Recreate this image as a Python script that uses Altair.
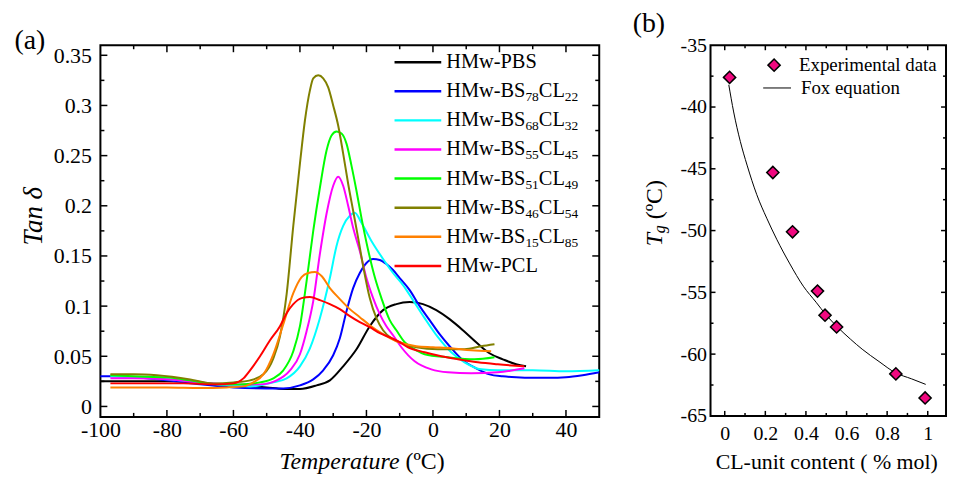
import altair as alt
import pandas as pd

FONT = "Liberation Serif"

# ---------------- Panel (a): tan(delta) vs temperature ----------------
series_names = ["HMw-PBS", "HMw-BS78CL22", "HMw-BS68CL32", "HMw-BS55CL45",
                "HMw-BS51CL49", "HMw-BS46CL54", "HMw-BS15CL85", "HMw-PCL"]
legend_main = ["HMw-PBS", "HMw-BS", "HMw-BS", "HMw-BS", "HMw-BS", "HMw-BS", "HMw-BS", "HMw-PCL"]
bs_sub = ["", "78", "68", "55", "51", "46", "15", ""]
cl_sub = ["", "22", "32", "45", "49", "54", "85", ""]
series_colors = ["#000000", "#0000ff", "#00ffff", "#ff00ff",
                 "#00ff00", "#808000", "#ff8000", "#ff0000"]

pbs_T = [-100, -90, -80, -70, -60, -50, -45, -40, -35, -31, -27, -23, -19, -15, -11, -7, -3, 1, 5, 9, 13, 17, 21, 25, 28]
pbs_v = [0.025, 0.025, 0.025, 0.0235, 0.021, 0.019, 0.0175, 0.0175, 0.021, 0.026, 0.040, 0.057, 0.080, 0.096, 0.102,
         0.104, 0.102, 0.096, 0.087, 0.076, 0.064, 0.053, 0.047, 0.042, 0.040]

bs78_T = [-100, -95, -90, -80, -70, -60, -50, -45, -40, -36, -33, -30, -28, -26, -24, -22, -20, -18, -16, -14, -12,
          -10, -7, -4, -1, 2, 5, 9, 13, 17, 21, 25, 30, 35, 40, 45, 50]
bs78_v = [0.030, 0.030, 0.029, 0.026, 0.022, 0.019, 0.018, 0.018, 0.021, 0.027, 0.036, 0.051, 0.068, 0.095, 0.118,
          0.133, 0.143, 0.147, 0.146, 0.142, 0.136, 0.128, 0.116, 0.100, 0.086, 0.072, 0.060, 0.046, 0.038, 0.032,
          0.030, 0.029, 0.0285, 0.0285, 0.029, 0.031, 0.034]

bs68_T = [-97, -90, -80, -70, -60, -55, -48, -44, -40, -37, -34, -31, -29, -27, -25, -23.5, -21.5, -18.5, -15, -12,
          -9, -6, -2.5, 1.5, 5.5, 9.5, 14.5, 19.5, 30, 40, 50]
bs68_v = [0.030, 0.029, 0.027, 0.024, 0.021, 0.020, 0.024, 0.028, 0.040, 0.058, 0.088, 0.128, 0.160, 0.180, 0.190,
          0.193, 0.183, 0.165, 0.147, 0.133, 0.121, 0.106, 0.088, 0.069, 0.054, 0.044, 0.037, 0.036, 0.036, 0.035,
          0.036]

bs55_T = [-97, -90, -80, -70, -60, -52, -47, -43, -40, -38, -36, -34, -32, -30, -28.5, -27, -25.5, -24, -22, -20,
          -18, -16, -14, -12, -9.5, -5.5, -0.5, 4.5, 11.5, 19.5, 27.5]
bs55_v = [0.028, 0.028, 0.027, 0.024, 0.022, 0.022, 0.026, 0.036, 0.052, 0.075, 0.105, 0.152, 0.192, 0.220, 0.229,
          0.220, 0.200, 0.178, 0.155, 0.128, 0.108, 0.092, 0.080, 0.071, 0.059, 0.045, 0.037, 0.034, 0.033, 0.034,
          0.038]

bs51_T = [-97, -90, -80, -73, -65, -58, -52, -48, -45, -42, -40, -38, -36, -34, -32, -30.5, -29, -27.5, -26, -24.5,
          -23, -21.5, -19.5, -17.5, -15.5, -13, -11, -8.5, -5, -2.5, 4.5, 12.5, 18.5]
bs51_v = [0.031, 0.030, 0.029, 0.026, 0.022, 0.022, 0.024, 0.028, 0.036, 0.055, 0.080, 0.125, 0.175, 0.218, 0.255,
          0.270, 0.274, 0.272, 0.262, 0.240, 0.215, 0.188, 0.156, 0.129, 0.108, 0.086, 0.076, 0.064, 0.056, 0.052,
          0.049, 0.047, 0.049]

bs46_T = [-97, -90, -83, -73, -66, -60, -55, -51, -48, -46, -44, -42, -40, -38.5, -37, -36, -34.5, -33, -31.5, -30,
          -28.5, -27, -25.5, -24, -22.5, -21, -19, -17, -15, -12.5, -10, -5, 1.5, 9.5, 14.5, 18.5]
bs46_v = [0.032, 0.032, 0.031, 0.027, 0.023, 0.024, 0.026, 0.032, 0.048, 0.070, 0.112, 0.180, 0.242, 0.285, 0.315,
          0.327, 0.330, 0.327, 0.318, 0.300, 0.280, 0.252, 0.222, 0.195, 0.168, 0.140, 0.108, 0.088, 0.076, 0.068,
          0.064, 0.059, 0.057, 0.057, 0.060, 0.062]

bs15_T = [-97, -90, -80, -70, -62, -57, -54, -51, -48, -45, -42, -39.5, -37.5, -35.5, -33.5, -31, -28, -25, -22, -19,
          -15, -11, -5, 0, 5.5, 11.5, 17.5]
bs15_v = [0.019, 0.019, 0.019, 0.0185, 0.019, 0.020, 0.024, 0.032, 0.052, 0.082, 0.113, 0.129, 0.133, 0.134, 0.130,
          0.118, 0.107, 0.097, 0.089, 0.081, 0.072, 0.065, 0.060, 0.059, 0.058, 0.056, 0.055]

pcl_T = [-97, -85, -75, -65, -60, -57, -55, -52, -49, -46, -44, -42, -39.5, -37, -34, -31, -28, -25, -22, -19, -16,
         -13, -10, -7.5, -2.5, 2.5, 7.5, 13.5, 19.5, 27.5]
pcl_v = [0.023, 0.023, 0.023, 0.022, 0.023, 0.028, 0.036, 0.050, 0.066, 0.080, 0.093, 0.102, 0.108, 0.109, 0.106,
         0.102, 0.097, 0.090, 0.084, 0.079, 0.073, 0.069, 0.064, 0.059, 0.054, 0.050, 0.047, 0.044, 0.042, 0.040]

xa_labels = [-100, -80, -60, -40, -20, 0, 20, 40]
xa_major = [-80, -60, -40, -20, 0, 20, 40]
xa_minor = [-90, -70, -50, -30, -10, 10, 30]
ya_labels = [0, 0.05, 0.1, 0.15, 0.2, 0.25, 0.3, 0.35]
ya_minor = [0.025, 0.075, 0.125, 0.175, 0.225, 0.275, 0.325]

# ---------------- Panel (b): Tg vs CL content ----------------
exp_x = [0.024, 0.237, 0.334, 0.457, 0.494, 0.551, 0.843, 0.987]
exp_y = [-37.6, -45.3, -50.1, -54.9, -56.85, -57.8, -61.6, -63.55]
fox_x = [0.02, 0.044, 0.077, 0.11, 0.158, 0.207, 0.256, 0.321, 0.387, 0.45, 0.498, 0.555, 0.62, 0.677, 0.76,
         0.84, 0.92, 0.99]
fox_y = [-38.2, -40.4, -42.8, -44.7, -47.1, -49.0, -50.7, -52.7, -54.5, -55.8, -56.8, -57.8, -58.8, -59.6, -60.6,
         -61.5, -62.0, -62.45]

xb_labels = [0, 0.2, 0.4, 0.6, 0.8, 1]
xb_minor = [0.1, 0.3, 0.5, 0.7, 0.9]
yb_labels = [-65, -60, -55, -50, -45, -40, -35]
yb_major = [-60, -55, -50, -45, -40]
yb_minor = [-62.5, -57.5, -52.5, -47.5, -42.5, -37.5]

# ---------------- helpers ----------------
WA, HA = 502, 374
WB, HB = 237, 373


def axis(values, size, pad):
    return alt.Axis(values=values, labelExpr="'' + datum.value", ticks=False, tickSize=0, domain=False,
                    grid=False, title=None, labelFont=FONT, labelFontSize=size, labelColor="black",
                    labelPadding=pad, labelFlush=False, labelOverlap=False)


def text(t, x, y, size, style="normal", align="center", angle=0):
    return alt.Chart(pd.DataFrame({"t": [t]})).mark_text(
        font=FONT, fontSize=size, fontStyle=style, align=align, baseline="middle", angle=angle,
        color="black").encode(text="t:N", x=alt.value(x), y=alt.value(y))


def xticks(vals, enc, field, h, length):
    d = pd.DataFrame({field: vals})
    b = alt.Chart(d).mark_rule(color="black", strokeWidth=1.5).encode(x=enc, y=alt.value(h), y2=alt.value(h - length))
    t = alt.Chart(d).mark_rule(color="black", strokeWidth=1.5).encode(x=enc, y=alt.value(0), y2=alt.value(length))
    return [b, t]


def yticks(vals, enc, field, w, length):
    d = pd.DataFrame({field: vals})
    l = alt.Chart(d).mark_rule(color="black", strokeWidth=1.5).encode(y=enc, x=alt.value(0), x2=alt.value(length))
    r = alt.Chart(d).mark_rule(color="black", strokeWidth=1.5).encode(y=enc, x=alt.value(w), x2=alt.value(w - length))
    return [l, r]


# ---------------- build panel (a) ----------------
curves = [(pbs_T, pbs_v), (bs78_T, bs78_v), (bs68_T, bs68_v), (bs55_T, bs55_v),
          (bs51_T, bs51_v), (bs46_T, bs46_v), (bs15_T, bs15_v), (pcl_T, pcl_v)]
frames = []
for i, (name, (T, v)) in enumerate(zip(series_names, curves)):
    frames.append(pd.DataFrame({"T": T, "v": v, "series": name, "k": i}))
df_a = pd.concat(frames, ignore_index=True)

x_a = alt.X("T:Q", scale=alt.Scale(domain=[-100, 50], nice=False, zero=False), axis=axis(xa_labels, 22, 3))
y_a = alt.Y("v:Q", scale=alt.Scale(domain=[-0.0104, 0.36], nice=False, zero=False), axis=axis(ya_labels, 22, 9))

lines_a = alt.Chart(df_a).mark_line(strokeWidth=2, interpolate="monotone").encode(
    x=x_a, y=y_a,
    color=alt.Color("series:N", scale=alt.Scale(domain=series_names, range=series_colors), legend=None),
    order=alt.Order("T:Q"))

layers_a = [lines_a]
layers_a += xticks(xa_major, x_a, "T", HA, 7) + xticks(xa_minor, x_a, "T", HA, 4)
layers_a += yticks(ya_labels, y_a, "v", WA, 7) + yticks(ya_minor, y_a, "v", WA, 4)

# legend of panel (a)
LX0 = 348
for i in range(len(series_names)):
    yy = 17 + 29.3 * i
    layers_a.append(alt.Chart(pd.DataFrame({"a": [0]})).mark_rule(color=series_colors[i], strokeWidth=2.5).encode(
        x=alt.value(296), x2=alt.value(343), y=alt.value(yy)))
    layers_a.append(text(legend_main[i], LX0, yy, 20.5, align="left"))
    if bs_sub[i]:
        layers_a.append(text(bs_sub[i], LX0 + 79.7, yy + 6, 13.5, align="left"))
        layers_a.append(text("CL", LX0 + 79.7 + 13.5, yy, 20.5, align="left"))
        layers_a.append(text(cl_sub[i], LX0 + 79.7 + 13.5 + 26.2, yy + 6, 13.5, align="left"))

layers_a.append(text("Tan δ", -67, 172, 27, style="italic", angle=270))
layers_a.append(text("Temperature", 301, 419, 24, style="italic", align="right"))
layers_a.append(text("(ºC)", 307, 419, 24, align="left"))
layers_a.append(text("(a)", -71, -4, 28))

panel_a = alt.layer(*layers_a).properties(width=WA, height=HA)

# ---------------- build panel (b) ----------------
df_exp = pd.DataFrame({"x": exp_x, "y": exp_y})
df_fox = pd.DataFrame({"x": fox_x, "y": fox_y})

x_b = alt.X("x:Q", scale=alt.Scale(domain=[-0.07, 1.09], nice=False, zero=False), axis=axis(xb_labels, 20, 8))
y_b = alt.Y("y:Q", scale=alt.Scale(domain=[-65, -35], nice=False, zero=False), axis=axis(yb_labels, 20, 4))

PINK = "#f0087f"
fox = alt.Chart(df_fox).mark_line(color="black", strokeWidth=1, interpolate="monotone").encode(x=x_b, y=y_b)
pts = alt.Chart(df_exp).mark_point(shape="diamond", filled=True, size=150, fill=PINK, stroke="black",
                                   strokeWidth=1.5, opacity=1).encode(x=x_b, y=y_b)

layers_b = [fox, pts]
layers_b += xticks(xb_labels, x_b, "x", HB, 5) + xticks(xb_minor, x_b, "x", HB, 3)
layers_b += yticks(yb_major, y_b, "y", WB, 5) + yticks(yb_minor, y_b, "y", WB, 3)

layers_b.append(alt.Chart(pd.DataFrame({"a": [0]})).mark_point(
    shape="diamond", filled=True, size=150, fill=PINK, stroke="black", strokeWidth=1.5, opacity=1).encode(
    x=alt.value(64), y=alt.value(20)))
layers_b.append(text("Experimental data", 89, 20, 19, align="left"))
layers_b.append(alt.Chart(pd.DataFrame({"a": [0]})).mark_rule(color="black", strokeWidth=1).encode(
    x=alt.value(53), x2=alt.value(81), y=alt.value(43)))
layers_b.append(text("Fox equation", 91, 43, 19, align="left"))

layers_b.append(text("T", -56, 202.4, 24, style="italic", align="left", angle=270))
layers_b.append(text("g", -51, 189.1, 16, style="italic", align="left", angle=270))
layers_b.append(text("(ºC)", -56, 175.1, 24, align="left", angle=270))
layers_b.append(text("CL-unit content ( % mol)", 117, 419, 22))
layers_b.append(text("(b)", -62, -21, 28))

panel_b = alt.layer(*layers_b).properties(width=WB, height=HB)

chart = alt.hconcat(panel_a, panel_b, spacing=112, bounds="flush").properties(
    padding={"left": 5, "top": 0, "right": 0, "bottom": 0}, background="white"
).configure_view(stroke="black", strokeWidth=2)

chart.save("out.html", embed_options={"renderer": "svg", "actions": False})
